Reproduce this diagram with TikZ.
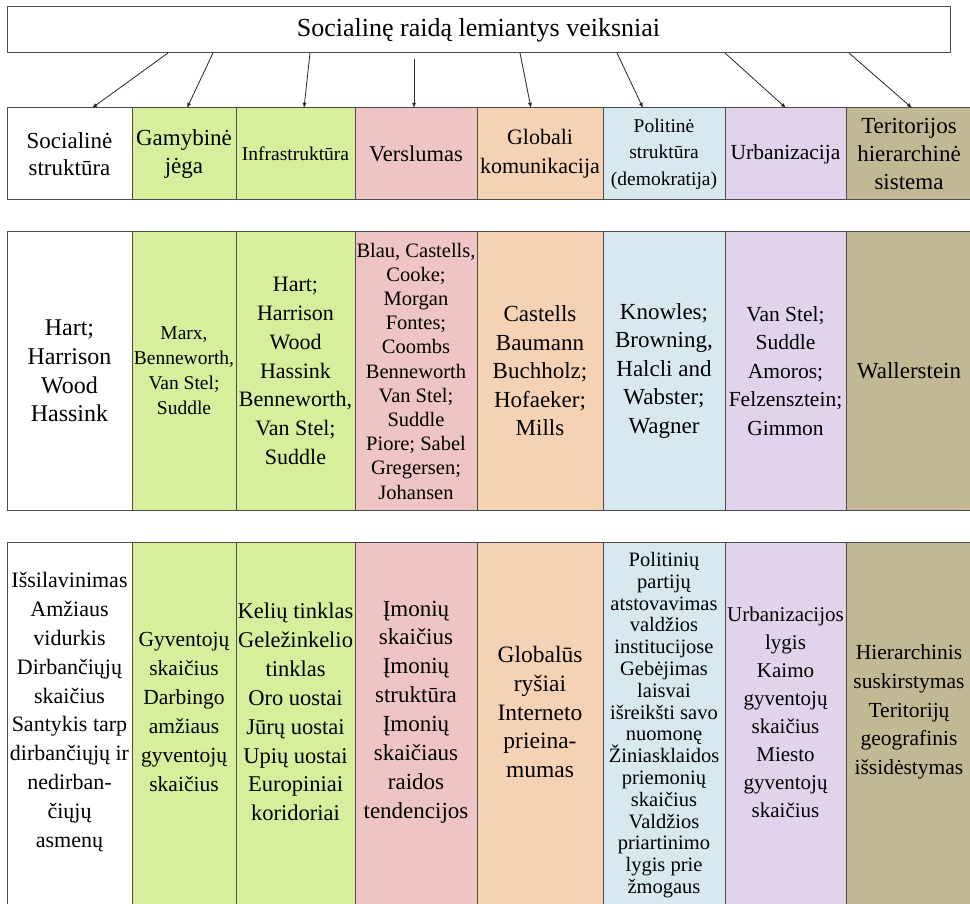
\documentclass[tikz,border=0pt]{standalone}
\usepackage{fontspec}
\setmainfont{Liberation Serif}
\usetikzlibrary{positioning,arrows}

\definecolor{gamyba}{RGB}{215,239,157}
\definecolor{verslas}{RGB}{238,196,196}
\definecolor{globalu}{RGB}{246,210,181}
\definecolor{politika}{RGB}{215,233,239}
\definecolor{urbanas}{RGB}{224,211,235}
\definecolor{teritorija}{RGB}{194,185,148}
\newcommand{\fnt}[2]{\fontsize{#1}{#2}\selectfont}

\begin{document}
\begin{tikzpicture}[x=1pt,y=-1pt,>=latex,
		cell/.style={draw=black!70,line width=1pt,inner sep=1pt,outer sep=0pt,align=center,
			anchor=north west,font=\fnt{23}{28.7}},
		hdr/.style={cell,minimum height=92pt},
		mid/.style={cell,minimum height=278pt},
		low/.style={cell,minimum height=380pt},
		tekstas/.style={align=center,inner sep=0pt,font=\fnt{22.5}{28.8}},
		rodykle/.style={->,draw=black!85,line width=0.8pt}
		]
		\useasboundingbox (0,0) rectangle (970,904);
		
		% virsutinis blokas
		\node[draw=black!70,line width=1pt,outer sep=0pt,minimum width=943pt,minimum height=46pt,
			anchor=north west,font=\fnt{26}{30}] (top) at (7,7) {Socialinę raidą lemiantys veiksniai};
		
		% pirma eilute
		\node[hdr,minimum width=125pt,font=\fnt{23}{27.5}] (h1) at (7,108) {Socialinė\\struktūra};
		\node[hdr,fill=gamyba,minimum width=104pt,font=\fnt{23}{27.5},right=0pt of h1] (h2) {Gamybinė\\jėga};
		\node[hdr,fill=gamyba,minimum width=119pt,font=\fnt{19.5}{24},right=0pt of h2] (h3) {Infrastruktūra};
		\node[hdr,fill=verslas,minimum width=122pt,font=\fnt{22.5}{27},right=0pt of h3] (h4) {Verslumas};
		\node[hdr,fill=globalu,minimum width=126pt,font=\fnt{22}{29},right=0pt of h4] (h5) {Globali\\komunikacija};
		\node[hdr,fill=politika,minimum width=122pt,font=\fnt{19.5}{26.5},right=0pt of h5] (h6) {Politinė\\struktūra\\(demokratija)};
		\node[hdr,fill=urbanas,minimum width=121pt,font=\fnt{21.5}{27},right=0pt of h6] (h7) {Urbanizacija};
		\node[hdr,fill=teritorija,minimum width=126pt,font=\fnt{23}{28},right=0pt of h7] (h8) {Teritorijos\\hierarchinė\\sistema};
		
		% rodykles
		\draw[rodykle] (168,0 |- top.south) -- (92,0 |- h1.north);
		\draw[rodykle] (213,0 |- top.south) -- (187,0 |- h2.north);
		\draw[rodykle] (310,0 |- top.south) -- (304,0 |- h3.north);
		\draw[rodykle] ([yshift=-6pt]414,0 |- top.south) -- (414,0 |- h4.north);
		\draw[rodykle] (520,0 |- top.south) -- (531,0 |- h5.north);
		\draw[rodykle] (617,0 |- top.south) -- (643,0 |- h6.north);
		\draw[rodykle] (725,0 |- top.south) -- (786,0 |- h7.north);
		\draw[rodykle] (849,0 |- top.south) -- (912,0 |- h8.north);
		
		% antra eilute
		\node[mid,minimum width=125pt,font=\fnt{24}{28.7},below=32pt of h1] (b1) {Hart;\\Harrison\\Wood\\Hassink};
		\node[mid,fill=gamyba,minimum width=104pt,font=\fnt{19.5}{25},right=0pt of b1] (b2) {Marx,\\Benneworth,\\Van Stel;\\Suddle};
		\node[mid,fill=gamyba,minimum width=119pt,font=\fnt{22}{28.7},right=0pt of b2] (b3) {Hart;\\Harrison\\Wood\\Hassink\\Benneworth,\\Van Stel;\\Suddle};
		\node[mid,fill=verslas,minimum width=122pt,font=\fnt{20.5}{24.2},right=0pt of b3] (b4) {Blau, Castells,\\Cooke;\\Morgan\\Fontes;\\Coombs\\Benneworth\\Van Stel;\\Suddle\\Piore; Sabel\\Gregersen;\\Johansen};
		\node[mid,fill=globalu,minimum width=126pt,font=\fnt{23}{28.5},right=0pt of b4] (b5) {Castells\\Baumann\\Buchholz;\\Hofaeker;\\Mills};
		\node[mid,fill=politika,minimum width=122pt,font=\fnt{23}{28.5},right=0pt of b5] (b6) {Knowles;\\Browning,\\Halcli and\\Wabster;\\Wagner};
		\node[mid,fill=urbanas,minimum width=121pt,font=\fnt{21.5}{28.5},right=0pt of b6] (b7) {Van Stel;\\Suddle\\Amoros;\\Felzensztein;\\Gimmon};
		\node[mid,fill=teritorija,minimum width=126pt,font=\fnt{23}{28.5},right=0pt of b7] (b8) {Wallerstein};
		
		% trecia eilute
		\node[low,minimum width=125pt,below=32pt of b1] (r1) {};
		\node[low,fill=gamyba,minimum width=104pt,right=0pt of r1] (r2) {};
		\node[low,fill=gamyba,minimum width=119pt,right=0pt of r2] (r3) {};
		\node[low,fill=verslas,minimum width=122pt,right=0pt of r3] (r4) {};
		\node[low,fill=globalu,minimum width=126pt,right=0pt of r4] (r5) {};
		\node[low,fill=politika,minimum width=122pt,right=0pt of r5] (r6) {};
		\node[low,fill=urbanas,minimum width=121pt,right=0pt of r6] (r7) {};
		\node[low,fill=teritorija,minimum width=126pt,right=0pt of r7] (r8) {};
		
		\node[tekstas,font=\fnt{22}{28.9}] (t1) at ([yshift=20pt]r1.center) {Išsilavinimas\\Amžiaus\\vidurkis\\Dirbančiųjų\\skaičius\\Santykis tarp\\dirbančiųjų ir\\nedirban-\\čiųjų\\asmenų};
		\node[tekstas,font=\fnt{21.5}{28.9}] (t2) at ([yshift=20pt]r2.center) {Gyventojų\\skaičius\\Darbingo\\amžiaus\\gyventojų\\skaičius};
		\node[tekstas,font=\fnt{22.5}{28.9}] (t3) at ([yshift=20pt]r3.center) {Kelių tinklas\\Geležinkelio\\tinklas\\Oro uostai\\Jūrų uostai\\Upių uostai\\Europiniai\\koridoriai};
		\node[tekstas,font=\fnt{23}{28.9}] (t4) at ([yshift=20pt]r4.center) {Įmonių\\skaičius\\Įmonių\\struktūra\\Įmonių\\skaičiaus\\raidos\\tendencijos};
		\node[tekstas,font=\fnt{23.5}{28.8}] (t5) at ([yshift=20pt]r5.center) {Globalūs\\ryšiai\\Interneto\\prieina-\\mumas};
		\node[tekstas,font=\fnt{20.5}{21.8}] (t6) at ([yshift=7pt]r6.center) {Politinių\\partijų\\atstovavimas\\valdžios\\institucijose\\Gebėjimas\\laisvai\\išreikšti savo\\nuomonę\\Žiniasklaidos\\priemonių\\skaičius\\Valdžios\\priartinimo\\lygis prie\\žmogaus};
		\node[tekstas,font=\fnt{21}{28}] (t7) at ([yshift=20pt]r7.center) {Urbanizacijos\\lygis\\Kaimo\\gyventojų\\skaičius\\Miesto\\gyventojų\\skaičius};
		\node[tekstas,font=\fnt{21.5}{28.8}] (t8) at ([yshift=20pt]r8.center) {Hierarchinis\\suskirstymas\\Teritorijų\\geografinis\\išsidėstymas};
	\end{tikzpicture}
\end{document}
